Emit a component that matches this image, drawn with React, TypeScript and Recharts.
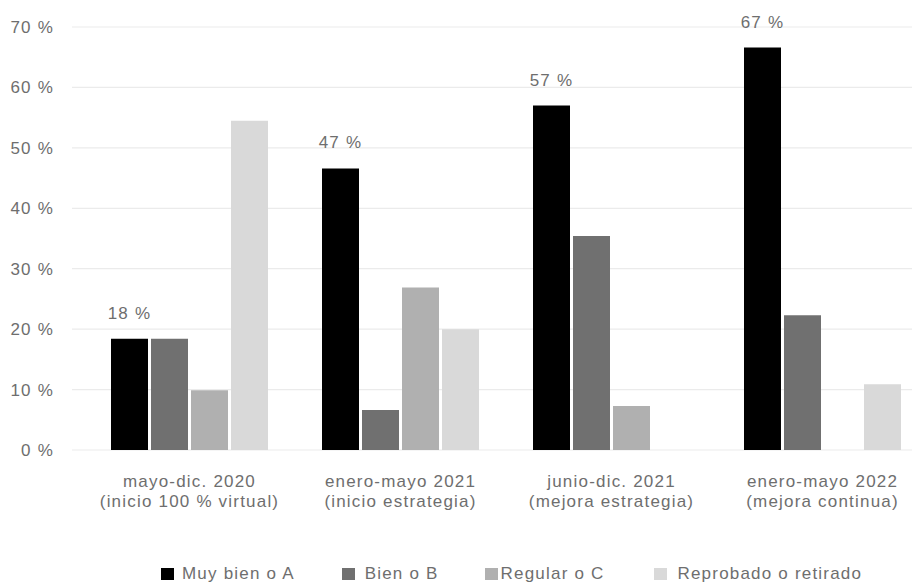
import React from "react";
import {
  BarChart,
  Bar,
  XAxis,
  YAxis,
  CartesianGrid,
  Legend,
  LabelList,
} from "recharts";

// Periods (first line) and their phase description (second line)
const periods = ["mayo-dic. 2020", "enero-mayo 2021", "junio-dic. 2021", "enero-mayo 2022"];
const phases = [
  "(inicio 100 % virtual)",
  "(inicio estrategia)",
  "(mejora estrategia)",
  "(mejora continua)",
];

// Share of students per grade band, in percent
const muyBien = [18.4, 46.6, 57.0, 66.6];
const bien = [18.4, 6.6, 35.4, 22.3];
const regular = [9.9, 26.9, 7.3, null];
const reprobado = [54.5, 20.0, null, 10.9];

const yTicks = [0, 10, 20, 30, 40, 50, 60, 70];

const seriesNames = ["Muy bien o A", "Bien o B", "Regular o C", "Reprobado o retirado"];
const seriesColors = ["#000000", "#707070", "#b0b0b0", "#d9d9d9"];

const data = periods.map((p, i) => ({
  period: p,
  phase: phases[i],
  muyBien: muyBien[i],
  bien: bien[i],
  regular: regular[i],
  reprobado: reprobado[i],
}));

const FONT = "'Liberation Sans', Arial, Helvetica, sans-serif";
const TEXT = "#6e6e6e";
const FS = 17;
const LS = 1.2;

// legend spacing: gap between swatch and text, and after each item
const swatchGap = [8, 10, 3, 10];
const itemGap = [47, 46, 50, 0];

const PeriodTick = (props: any) => {
  const { x, y, payload, index } = props;
  return (
    <g transform={`translate(${x},${y})`}>
      <text
        x={0}
        y={37}
        textAnchor="middle"
        fill={TEXT}
        fontFamily={FONT}
        fontSize={FS}
        style={{ letterSpacing: LS }}
      >
        {payload.value}
      </text>
      <text
        x={0}
        y={57}
        textAnchor="middle"
        fill={TEXT}
        fontFamily={FONT}
        fontSize={FS}
        style={{ letterSpacing: LS }}
      >
        {phases[index]}
      </text>
    </g>
  );
};

const LegendContent = () => (
  <div
    style={{
      boxSizing: "border-box",
      height: 30,
      paddingTop: 12,
      display: "flex",
      alignItems: "center",
      paddingLeft: 161,
      fontFamily: FONT,
      fontSize: FS,
      letterSpacing: LS,
      color: TEXT,
      whiteSpace: "nowrap",
    }}
  >
    {seriesNames.map((name, i) => (
      <div key={name} style={{ display: "flex", alignItems: "center", marginRight: itemGap[i] }}>
        <span
          style={{
            display: "inline-block",
            width: 13,
            height: 12,
            background: seriesColors[i],
            marginRight: swatchGap[i],
          }}
        />
        <span>{name}</span>
      </div>
    ))}
  </div>
);

export default function App() {
  return (
    <div
      style={{
        position: "absolute",
        left: 0,
        top: 0,
        width: 912,
        height: 583,
        overflow: "hidden",
        background: "#ffffff",
      }}
    >
      <BarChart
        width={940}
        height={583}
        data={data}
        margin={{ top: 27, right: 12, bottom: 0, left: 0 }}
        barCategoryGap={27}
        barGap={3}
      >
        <CartesianGrid vertical={false} stroke="#ebebeb" strokeWidth={1.2} />
        <XAxis
          dataKey="period"
          axisLine={false}
          tickLine={false}
          tickSize={0}
          tickMargin={0}
          height={103}
          padding={{ left: 12, right: 0 }}
          interval={0}
          tick={<PeriodTick />}
        />
        <YAxis
          domain={[0, 70]}
          ticks={yTicks}
          width={72}
          axisLine={false}
          tickLine={false}
          tickSize={0}
          tickMargin={18}
          tickFormatter={(v: number) => `${v} %`}
          tick={{ fill: TEXT, fontFamily: FONT, fontSize: FS, style: { letterSpacing: LS } }}
        />
        <Legend verticalAlign="bottom" content={<LegendContent />} />
        <Bar dataKey="muyBien" name={seriesNames[0]} fill={seriesColors[0]} isAnimationActive={false}>
          <LabelList
            dataKey="muyBien"
            position="top"
            offset={20}
            formatter={(v: any) => `${Math.round(Number(v))} %`}
            fill={TEXT}
            fontFamily={FONT}
            fontSize={FS}
            style={{ letterSpacing: LS }}
          />
        </Bar>
        <Bar dataKey="bien" name={seriesNames[1]} fill={seriesColors[1]} isAnimationActive={false} />
        <Bar dataKey="regular" name={seriesNames[2]} fill={seriesColors[2]} isAnimationActive={false} />
        <Bar dataKey="reprobado" name={seriesNames[3]} fill={seriesColors[3]} isAnimationActive={false} />
      </BarChart>
    </div>
  );
}
